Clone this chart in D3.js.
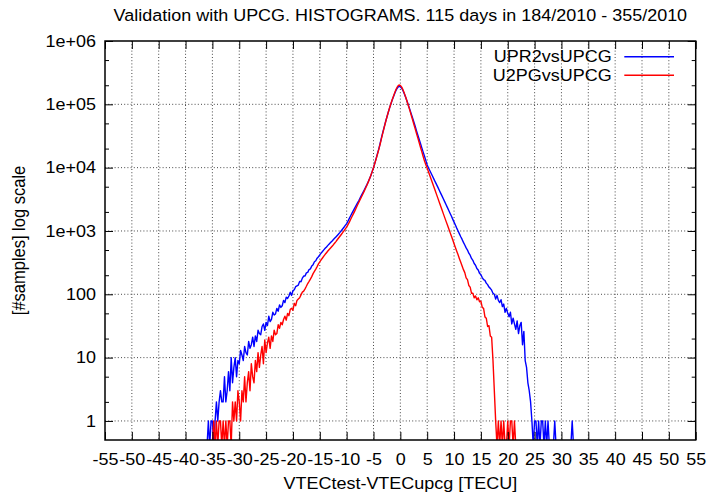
<!DOCTYPE html>
<html>
<head>
<meta charset="utf-8">
<script src="https://cdn.jsdelivr.net/npm/d3@7"></script>
<style>
    body { margin: 0; background: #fff; }
    svg { display: block; }
</style>
</head>
<body>
<svg id="chart" width="709" height="496"></svg>
<script>
// histogram bins: x = binStart + i * binWidth  [TECU]
const binStart = -36;
const binWidth = 0.25;

// UPR2vsUPCG counts, one row per TECU (4 bins each), starting at -36
const upr2Counts = [
    0, 1, 0, 1,            // -36
    1, 0, 1, 2,            // -35
    1, 2, 3, 2,            // -34
    2, 5, 2, 3,            // -33
    6, 3, 10, 4,           // -32
    7, 10, 5, 9,           // -31
    8, 13, 11, 9,          // -30
    15, 12, 11, 18,        // -29
    14, 16, 21, 15,        // -28
    22, 18, 27, 24,        // -27
    23, 31, 34, 27,        // -26
    36, 32, 45, 37,        // -25
    40, 52, 47, 49,        // -24
    60, 54, 68, 62,        // -23
    66, 80, 74, 90,        // -22
    86, 94, 108, 96,       // -21
    114, 118, 132, 136,    // -20
    140, 160, 158, 180,    // -19
    194, 194, 218, 222,    // -18
    246, 252, 280, 294,    // -17
    326, 338, 372, 392,    // -16
    420, 446, 474, 502,    // -15
    532, 560, 592, 624,    // -14
    656, 690, 728, 766,    // -13
    806, 850, 898, 950,    // -12
    1010, 1075, 1145, 1225,   // -11
    1310, 1430, 1580, 1740,   // -10
    1910, 2090, 2290, 2510,   // -9
    2750, 3000, 3300, 3650,   // -8
    4000, 4400, 4850, 5350,   // -7
    5950, 6650, 7450, 8650,   // -6
    10000, 11800, 14000, 16800,     // -5
    20000, 24500, 30000, 36500,     // -4
    44000, 53000, 63000, 75000,     // -3
    88000, 102000, 118000, 134000,  // -2
    152000, 170000, 184000, 192000, // -1
    190000, 180000, 164000, 146000, // 0
    128000, 112000, 97000, 84000,   // 1
    72000, 62000, 53000, 45500,     // 2
    38500, 32800, 28000, 24000,     // 3
    20500, 17600, 15100, 12900,     // 4
    11000, 9900, 8950, 8100,        // 5
    7300, 6600, 5950, 5400,  // 6
    4880, 4400, 3960, 3580,  // 7
    3230, 2910, 2620, 2360,  // 8
    2120, 1910, 1720, 1540,  // 9
    1380, 1240, 1110, 1000,  // 10
    900, 810, 735, 660,      // 11
    600, 540, 500, 446,      // 12
    414, 368, 344, 306,      // 13
    288, 256, 242, 214,      // 14
    204, 184, 170, 166,      // 15
    150, 142, 130, 124,      // 16
    116, 104, 100, 84,       // 17
    96, 80, 74, 82,          // 18
    64, 70, 52, 60,          // 19
    50, 44, 52, 34,          // 20
    42, 34, 28, 38,          // 21
    24, 32, 36, 16,          // 22
    26, 9, 7, 4,             // 23
    3, 2, 1, 0,              // 24
    1, 1, 0, 1,              // 25
    0, 1, 1, 0,              // 26
    1, 0, 1, 0,              // 27
    0, 0, 0, 1,              // 28
    0, 0, 0, 0,              // 29
    0, 0, 0, 0,              // 30
    0, 0, 0, 0,              // 31
    1, 0                     // 32
];

// U2PGvsUPCG counts, same bins
const u2pgCounts = [
    0, 0, 0, 0,            // -36
    0, 1, 0, 1,            // -35
    0, 1, 1, 0,            // -34
    1, 0, 1, 0,            // -33
    1, 1, 0, 2,            // -32
    1, 2, 1, 3,            // -31
    2, 1, 3, 2,            // -30
    5, 2, 4, 6,            // -29
    3, 8, 5, 4,            // -28
    9, 6, 12, 7,           // -27
    11, 15, 8, 19,         // -26
    12, 17, 21, 14,        // -25
    22, 18, 27, 23,        // -24
    24, 33, 29, 36,        // -23
    33, 40, 45, 39,        // -22
    50, 46, 58, 60,        // -21
    56, 72, 66, 80,        // -20
    84, 88, 98, 108,       // -19
    112, 122, 134, 148,    // -18
    160, 174, 190, 212,    // -17
    230, 250, 274, 302,    // -16
    326, 350, 374, 400,    // -15
    428, 454, 482, 510,    // -14
    538, 570, 602, 640,    // -13
    680, 726, 774, 826,    // -12
    880, 940, 1006, 1076,     // -11
    1150, 1260, 1380, 1530,   // -10
    1690, 1860, 2060, 2290,   // -9
    2550, 2820, 3120, 3440,   // -8
    3800, 4220, 4680, 5220,   // -7
    5850, 6600, 7500, 8600,   // -6
    10000, 11700, 13800, 16400,     // -5
    19600, 23800, 29200, 35800,     // -4
    43500, 52500, 63000, 75000,     // -3
    88500, 103000, 119000, 137000,  // -2
    156000, 176000, 193000, 202000, // -1
    199000, 187000, 169000, 149000, // 0
    129000, 111000, 95000, 81000,   // 1
    68500, 58000, 49000, 41500,     // 2
    35000, 29500, 25000, 21000,     // 3
    17800, 15000, 12700, 11150,     // 4
    9800, 8550, 7450, 6500,  // 5
    5650, 4930, 4300, 3750,  // 6
    3270, 2850, 2480, 2160,  // 7
    1880, 1640, 1430, 1250,  // 8
    1090, 950, 830, 725,     // 9
    630, 550, 480, 420,      // 10
    365, 320, 280, 245,      // 11
    220, 182, 170, 138,      // 12
    130, 104, 104, 88,       // 13
    94, 82, 88, 76,          // 14
    78, 62, 60, 44,          // 15
    42, 31, 32, 22,          // 16
    21, 9, 3, 1,             // 17
    0, 1, 0, 1,              // 18
    0, 1, 0, 0,              // 19
    1, 0, 1, 1,              // 20
    0, 1, 0                  // 21
];

const seriesNames = ["UPR2vsUPCG", "U2PGvsUPCG"];
const seriesColors = ["#0000ff", "#ff0000"];

const xTicks = [-55, -50, -45, -40, -35, -30, -25, -20, -15, -10, -5, 0, 5, 10, 15, 20, 25, 30, 35, 40, 45, 50, 55];
const yTicks = [1, 10, 100, 1e3, 1e4, 1e5, 1e6];
const yTickLabels = ["1", "10", "100", "1e+03", "1e+04", "1e+05", "1e+06"];
const yMinorTicks = [2, 5, 20, 50, 200, 500, 2e3, 5e3, 2e4, 5e4, 2e5, 5e5];

const titleText = "Validation with UPCG. HISTOGRAMS. 115 days in 184/2010 - 355/2010";
const xLabelText = "VTECtest-VTECupcg [TECU]";
const yLabelText = "[#samples] log scale";

// layout
const FONT = "'Liberation Sans', Arial, Helvetica, sans-serif";
const FONT_SIZE = 16.5;
const SX = 1.09;   // the picture is stretched horizontally
const plot = { left: 105, top: 41, right: 695.7, bottom: 440 };

const svg = d3.select("#chart");

// scales
const x = d3.scaleLinear().domain([-55, 55]).range([plot.left, plot.right]);
const y = d3.scaleLog().domain([0.5, 1e6]).range([plot.bottom, plot.top]);

function stretch(sel) {
    sel.each(function () {
        var t = d3.select(this);
        var tx = +t.attr("x") || 0;
        var ty = +t.attr("y") || 0;
        t.attr("x", 0).attr("y", 0)
            .attr("transform", `translate(${tx},${ty}) scale(${SX},1)`);
    });
}

svg.append("rect").attr("width", 709).attr("height", 496).attr("fill", "#fff");

svg.append("defs").append("clipPath").attr("id", "plot-clip")
    .append("rect")
    .attr("x", plot.left).attr("y", plot.top)
    .attr("width", plot.right - plot.left).attr("height", plot.bottom - plot.top);

// grid
const grid = svg.append("g")
    .attr("stroke", "#333")
    .attr("stroke-width", 0.9)
    .attr("stroke-dasharray", "1,2.2");
grid.selectAll("line.gx")
    .data(xTicks.filter(t => t > -55 && t < 55))
    .join("line")
    .attr("class", "gx")
    .attr("x1", d => x(d)).attr("x2", d => x(d))
    .attr("y1", plot.top).attr("y2", plot.bottom);
grid.selectAll("line.gy")
    .data(yTicks.filter(t => t < 1e6))
    .join("line")
    .attr("class", "gy")
    .attr("x1", plot.left).attr("x2", plot.right)
    .attr("y1", d => y(d)).attr("y2", d => y(d));

// histogram lines
const line = d3.line()
    .x((d, i) => x(binStart + i * binWidth))
    .y(d => d > 0 ? y(d) : plot.bottom + 6);

svg.append("g")
    .attr("clip-path", "url(#plot-clip)")
    .selectAll("path")
    .data([upr2Counts, u2pgCounts])
    .join("path")
    .attr("fill", "none")
    .attr("stroke", (d, i) => seriesColors[i])
    .attr("stroke-width", 1.4)
    .attr("stroke-linejoin", "round")
    .attr("d", d => line(d));

// frame
svg.append("rect")
    .attr("x", plot.left).attr("y", plot.top)
    .attr("width", plot.right - plot.left).attr("height", plot.bottom - plot.top)
    .attr("fill", "none")
    .attr("stroke", "#000")
    .attr("stroke-width", 1.5);

// axes
function styleAxis(g) {
    g.select(".domain").remove();
    g.attr("font-family", FONT).attr("font-size", FONT_SIZE).attr("color", "#000");
}

svg.append("g")
    .attr("transform", `translate(0,${plot.bottom})`)
    .call(d3.axisBottom(x).tickValues(xTicks).tickSizeInner(-8).tickSizeOuter(0)
        .tickPadding(13).tickFormat(d => d))
    .call(styleAxis)
    .call(g => stretch(g.selectAll("text")));

svg.append("g")
    .attr("transform", `translate(0,${plot.top})`)
    .call(d3.axisTop(x).tickValues(xTicks).tickSizeInner(-8).tickSizeOuter(0).tickFormat(""))
    .call(styleAxis);

svg.append("g")
    .attr("transform", `translate(${plot.left},0)`)
    .call(d3.axisLeft(y).tickValues(yTicks).tickSizeInner(-8).tickSizeOuter(0)
        .tickPadding(9).tickFormat((d, i) => yTickLabels[i]))
    .call(styleAxis)
    .call(g => stretch(g.selectAll("text")));

svg.append("g")
    .attr("transform", `translate(${plot.right},0)`)
    .call(d3.axisRight(y).tickValues(yTicks).tickSizeInner(-8).tickSizeOuter(0).tickFormat(""))
    .call(styleAxis);

svg.append("g")
    .attr("transform", `translate(${plot.left},0)`)
    .call(d3.axisLeft(y).tickValues(yMinorTicks).tickSizeInner(-4).tickSizeOuter(0).tickFormat(""))
    .call(styleAxis);

svg.append("g")
    .attr("transform", `translate(${plot.right},0)`)
    .call(d3.axisRight(y).tickValues(yMinorTicks).tickSizeInner(-4).tickSizeOuter(0).tickFormat(""))
    .call(styleAxis);

// labels
const texts = svg.append("g")
    .attr("font-family", FONT)
    .attr("font-size", FONT_SIZE)
    .attr("fill", "#000");

texts.append("text")
    .attr("x", (plot.left + plot.right) / 2).attr("y", 21)
    .attr("text-anchor", "middle")
    .text(titleText)
    .call(stretch);

texts.append("text")
    .attr("x", (plot.left + plot.right) / 2).attr("y", 489)
    .attr("text-anchor", "middle")
    .text(xLabelText)
    .call(stretch);

texts.append("text")
    .attr("text-anchor", "middle")
    .attr("transform", `translate(25,${(plot.top + plot.bottom) / 2}) scale(${SX},1) rotate(-90)`)
    .text(yLabelText);

// legend
const legend = svg.append("g")
    .attr("font-family", FONT)
    .attr("font-size", FONT_SIZE);

seriesNames.forEach((name, i) => {
    var rowY = 56.7 + i * 18.5;
    legend.append("text")
        .attr("x", 611.7).attr("y", rowY + 5.6)
        .attr("text-anchor", "end")
        .text(name)
        .call(stretch);
    legend.append("line")
        .attr("x1", 624.3).attr("x2", 674)
        .attr("y1", rowY).attr("y2", rowY)
        .attr("stroke", seriesColors[i])
        .attr("stroke-width", 1.4);
});
</script>
</body>
</html>
